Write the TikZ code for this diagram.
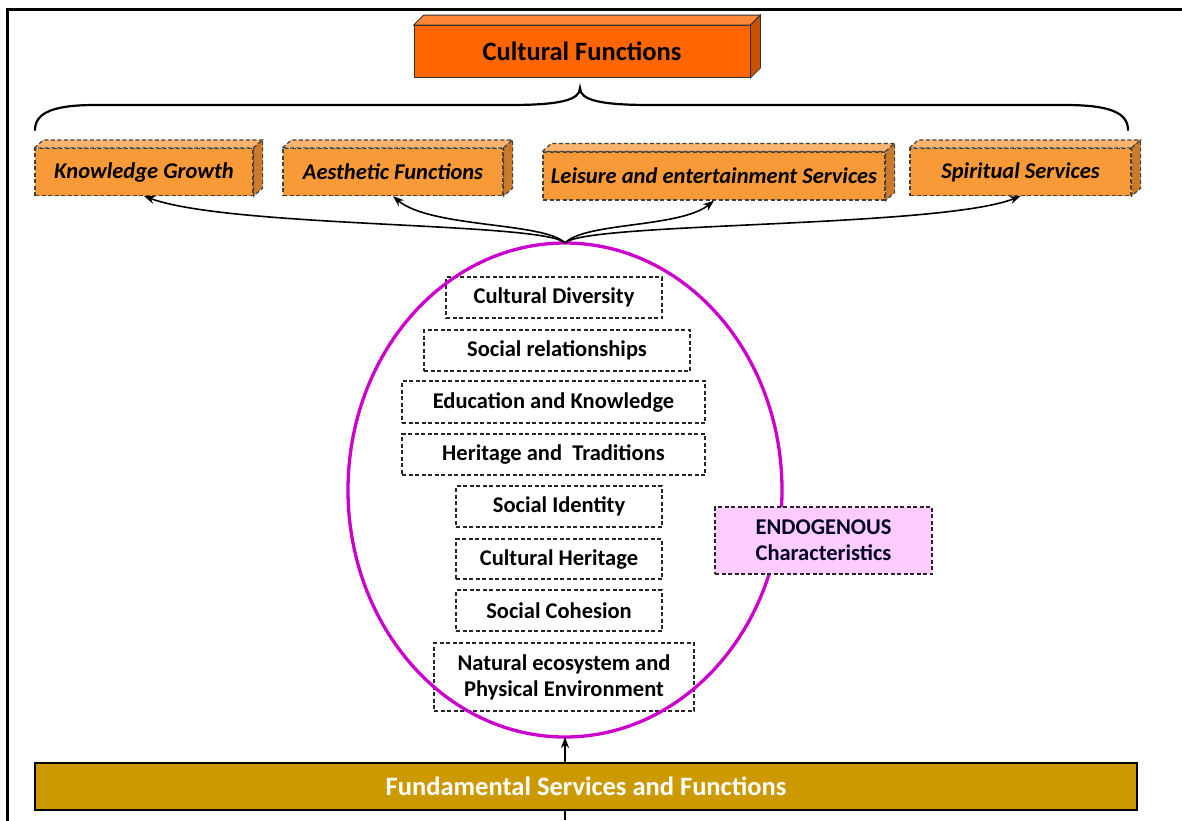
\documentclass[tikz,border=0pt]{standalone}
\usepackage{fontspec}
\setmainfont{Carlito}
\usetikzlibrary{shapes.geometric,arrows.meta}
\definecolor{cfF}{HTML}{FF6600}
\definecolor{cfT}{HTML}{FF8838}
\definecolor{cfS}{HTML}{C85000}
\definecolor{oF}{HTML}{F99A38}
\definecolor{oT}{HTML}{FBB36E}
\definecolor{oS}{HTML}{CC7A2A}
\definecolor{mag}{HTML}{CC00CC}
\definecolor{pinkF}{HTML}{FFCCFF}
\definecolor{gold}{HTML}{CC9900}
\tikzset{
  dsh/.style={dash pattern=on 4pt off 2.5pt},
  ofront/.style={draw=black!75, dsh, line width=1.2pt, fill=oF, inner sep=0pt,
    font=\bfseries\itshape\fontsize{22.5}{26}\selectfont, minimum height=47pt},
  oface/.style={draw=black!75, dsh, line width=1.2pt},
  ibox/.style={draw=black!85, dsh, line width=1.2pt, inner sep=0pt, align=center,
    font=\bfseries\fontsize{22.5}{26}\selectfont},
  conn/.style={line width=1.6pt, -{Stealth[length=11pt,width=8pt]}},
}
\begin{document}
\begin{tikzpicture}[x=1pt,y=-1pt]
\useasboundingbox (0,0) rectangle (1182,820);
% frame
\draw[line width=3pt] (7.5,830) -- (7.5,9.5) -- (1190,9.5);
% Cultural functions cuboid
\node[draw=black!80, line width=0.8pt, fill=cfF, minimum width=336pt, minimum height=52pt, inner sep=0pt,
  font=\bfseries\fontsize{26.5}{30}\selectfont] (cf) at (582,51.5) {Cultural Functions};
\filldraw[fill=cfT, draw=black!80, line width=0.8pt] (cf.north west) -- ++(10,-10) -- ([shift={(10,-10)}]cf.north east) -- (cf.north east) -- cycle;
\filldraw[fill=cfS, draw=black!80, line width=0.8pt] (cf.north east) -- ++(10,-10) -- ([shift={(10,-10)}]cf.south east) -- (cf.south east) -- cycle;
% brace
\draw[line width=2.2pt, line cap=round] (35,130) .. controls (35,112) and (55,105) .. (95,105) -- (510,105)
  .. controls (560,105) and (580,100) .. (580,88)
  .. controls (580,100) and (600,105) .. (650,105) -- (1065,105)
  .. controls (1108,105) and (1128,112) .. (1128,130);
% orange cuboids
\node[ofront, minimum width=218pt] (kg) at (144,172) {Knowledge Growth};
\node[ofront, minimum width=220pt] (ae) at (393,172) {Aesthetic Functions};
\node[ofront, minimum width=342pt, minimum height=48pt] (le) at (714,176) {Leisure and entertainment Services};
\node[ofront, minimum width=221pt] (sp) at (1020.5,172) {Spiritual Services};
\foreach \n in {kg,ae,le,sp}{
  \filldraw[oface, fill=oT] (\n.north west) -- ++(9,-8) -- ([shift={(9,-8)}]\n.north east) -- (\n.north east) -- cycle;
  \filldraw[oface, fill=oS] (\n.north east) -- ++(9,-8) -- ([shift={(9,-8)}]\n.south east) -- (\n.south east) -- cycle;
}
% inner boxes
\node[ibox, minimum width=216pt, minimum height=41pt] (b1) at (554,297.5) {Cultural Diversity};
\node[ibox, minimum width=266pt, minimum height=41pt] (b2) at (557,350.5) {Social relationships};
\node[ibox, minimum width=303pt, minimum height=42pt] (b3) at (553.5,402) {Education and Knowledge};
\node[ibox, minimum width=303pt, minimum height=41pt] (b4) at (553.5,454.5) {Heritage and\ \ Traditions};
\node[ibox, minimum width=206pt, minimum height=41pt] (b5) at (559,506.5) {Social Identity};
\node[ibox, minimum width=206pt, minimum height=40pt] (b6) at (559,559) {Cultural Heritage};
\node[ibox, minimum width=206pt, minimum height=41pt] (b7) at (559,610.5) {Social Cohesion};
\node[ibox, minimum width=260pt, minimum height=68pt] (b8) at (564,677) {Natural ecosystem and\\Physical Environment};
% ellipse
\node[draw=mag, line width=3.3pt, ellipse, minimum width=434pt, minimum height=494pt, inner sep=0pt, outer sep=0pt] (ell) at (565,490) {};
% endogenous
\node[ibox, fill=pinkF, text=black!85!blue, minimum width=217pt, minimum height=67pt] (en) at (823.5,540.5) {ENDOGENOUS\\Characteristics};
% arrows to top boxes
\draw[conn] (ell.north) .. controls (545,222) and (230,228) .. (kg.south);
\draw[conn] (ell.north) .. controls (545,222) and (430,228) .. (ae.south);
\draw[conn] (ell.north) .. controls (585,222) and (680,228) .. (le.south);
\draw[conn] (ell.north) .. controls (585,222) and (940,228) .. (sp.south);
% bottom bar and arrow
\coordinate (foot) at (565,820);
\draw[conn] (foot) -- (ell.south);
\node[draw=black, line width=1.8pt, fill=gold, minimum width=1102pt, minimum height=47pt, inner sep=0pt,
  text=white, font=\bfseries\fontsize{26.5}{30}\selectfont] (fs) at (586,786.5) {Fundamental Services and Functions};
\end{tikzpicture}
\end{document}
